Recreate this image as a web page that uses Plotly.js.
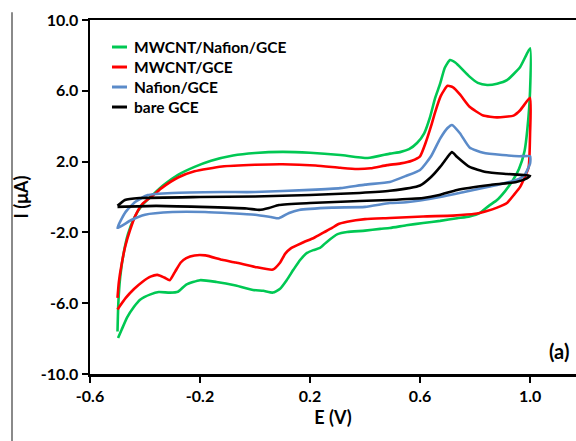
<!DOCTYPE html>
<html>
<head>
<meta charset="utf-8">
<script src="https://cdn.plot.ly/plotly-3.0.1.min.js"></script>
<style>html,body{margin:0;padding:0;background:#fff;}#chart{width:576px;height:441px;}</style>
</head>
<body>
<div id="chart"></div>
<script>
// Series names
const seriesNames = ["MWCNT/Nafion/GCE", "MWCNT/GCE", "Nafion/GCE", "bare GCE"];

// MWCNT/Nafion/GCE (green): anodic sweep then cathodic sweep
const greenE = [-0.5,-0.497,-0.49,-0.478,-0.462,-0.44,-0.41,-0.37,-0.33,-0.28,-0.22,-0.16,-0.08,0.0,0.10,0.2,0.31,0.41,0.49,0.53,0.56,0.589,0.615,0.636,0.655,0.673,0.69,0.709,0.728,0.745,0.78,0.81,0.844,0.88,0.916,0.964,1.0,
  1.0,0.99,0.98,0.96,0.938,0.91,0.88,0.85,0.818,0.78,0.735,0.673,0.611,0.55,0.49,0.455,0.40,0.335,0.30,0.284,0.26,0.236,0.212,0.189,0.164,0.14,0.115,0.09,0.065,0.03,-0.007,-0.07,-0.14,-0.2,-0.25,-0.28,-0.31,-0.35,-0.38,-0.418,-0.44,-0.465,-0.485,-0.498];
const greenI = [-7.6,-6.0,-4.5,-3.2,-2.1,-1.2,-0.45,0.15,0.7,1.25,1.7,2.05,2.35,2.49,2.55,2.5,2.37,2.2,2.45,2.55,2.7,3.05,3.6,4.5,5.6,6.4,7.3,7.74,7.6,7.35,6.8,6.45,6.33,6.4,6.6,7.35,8.4,
  6.0,3.8,2.6,1.6,0.96,0.35,-0.17,-0.5,-0.9,-1.1,-1.2,-1.35,-1.47,-1.6,-1.75,-1.8,-1.9,-1.98,-2.1,-2.26,-2.55,-2.88,-3.0,-3.16,-3.56,-4.1,-4.7,-5.2,-5.4,-5.3,-5.25,-5.0,-4.8,-4.7,-4.95,-5.35,-5.4,-5.37,-5.5,-5.8,-6.2,-6.8,-7.5,-7.97];

// MWCNT/GCE (red)
const redE = [-0.5,-0.495,-0.485,-0.472,-0.455,-0.435,-0.41,-0.37,-0.34,-0.28,-0.22,-0.12,0.0,0.1,0.22,0.31,0.37,0.42,0.48,0.53,0.57,0.60,0.62,0.64,0.655,0.675,0.70,0.72,0.745,0.78,0.83,0.88,0.94,0.964,1.0,
  1.0,0.995,0.98,0.964,0.94,0.916,0.88,0.84,0.80,0.72,0.611,0.49,0.40,0.335,0.30,0.28,0.25,0.215,0.17,0.13,0.11,0.09,0.065,0.0,-0.07,-0.12,-0.18,-0.22,-0.25,-0.27,-0.29,-0.31,-0.33,-0.355,-0.38,-0.41,-0.44,-0.47,-0.5];
const redI = [-5.7,-4.8,-3.8,-2.8,-1.9,-1.05,-0.4,0.1,0.5,1.1,1.45,1.72,1.82,1.85,1.78,1.65,1.58,1.62,1.8,1.9,2.05,2.3,3.05,4.0,4.8,5.7,6.28,6.2,5.8,5.1,4.6,4.5,4.6,4.9,5.6,
  3.6,1.7,1.1,0.57,0.1,-0.34,-0.6,-0.8,-0.95,-1.05,-1.1,-1.19,-1.25,-1.4,-1.55,-1.75,-2.0,-2.3,-2.6,-2.9,-3.2,-3.73,-4.1,-3.95,-3.7,-3.55,-3.3,-3.3,-3.45,-3.7,-4.2,-4.7,-4.55,-4.4,-4.5,-4.8,-5.2,-5.7,-6.35];

// Nafion/GCE (blue)
const blueE = [-0.5,-0.473,-0.436,-0.39,-0.30,-0.12,0.0,0.2,0.31,0.40,0.49,0.55,0.60,0.64,0.673,0.70,0.716,0.745,0.78,0.83,0.90,0.96,1.0,
  1.0,0.98,0.95,0.88,0.76,0.673,0.55,0.49,0.40,0.28,0.16,0.124,0.087,0.058,0.0,-0.182,-0.30,-0.40,-0.45,-0.5];
const blueI = [-1.75,-0.9,-0.28,0.11,0.23,0.28,0.28,0.4,0.5,0.7,0.85,1.2,1.53,2.3,3.3,3.9,4.07,3.6,2.8,2.5,2.37,2.3,2.3,
  1.9,1.24,0.96,0.68,0.28,0.0,-0.3,-0.34,-0.56,-0.6,-0.73,-0.9,-1.2,-1.13,-1.0,-0.85,-0.85,-1.0,-1.3,-1.75];

// bare GCE (black)
const blackE = [-0.5,-0.473,-0.42,-0.2,0.0,0.2,0.38,0.49,0.6,0.64,0.673,0.70,0.716,0.735,0.78,0.84,0.916,1.0,
  0.99,0.95,0.855,0.735,0.67,0.611,0.49,0.38,0.2,0.087,0.051,0.015,-0.03,-0.2,-0.36,-0.5];
const blackI = [-0.5,-0.17,-0.06,0.0,0.03,0.11,0.23,0.35,0.65,1.13,1.7,2.26,2.54,2.26,1.7,1.41,1.3,1.2,
  1.07,0.85,0.68,0.4,0.11,-0.06,-0.17,-0.23,-0.34,-0.45,-0.62,-0.73,-0.65,-0.56,-0.5,-0.56];

const xTicks = [-0.6,-0.2,0.2,0.6,1.0];
const yTicks = [-10,-6,-2,2,6,10];

const colors = ["#00C853", "#FF0000", "#5B8BC9", "#000000"];
const FONT = "Lato, 'Open Sans', sans-serif";

const xs = [greenE, redE, blueE, blackE];
const ys = [greenI, redI, blueI, blackI];
const traces = seriesNames.map((n, i) => ({
  x: xs[i], y: ys[i], name: n, type: 'scatter', mode: 'lines', showlegend: false,
  line: {color: colors[i], width: 2.6, shape: 'spline', smoothing: 0.5}
}));

// Compact legend (Excel-style tight rows) built from the series names and colours
const legX0 = 0.0453, legX1 = 0.0761, legTextX = 0.0864, legTop = 0.9237, legStep = 0.0565;
const legendShapes = seriesNames.map((n, i) => ({
  type: 'line', xref: 'paper', yref: 'paper', x0: legX0, x1: legX1,
  y0: legTop - i * legStep, y1: legTop - i * legStep, line: {color: colors[i], width: 3}
}));
const legendTexts = seriesNames.map((n, i) => ({
  text: n, xref: 'paper', yref: 'paper', x: legTextX, y: legTop - i * legStep,
  xanchor: 'left', yanchor: 'middle', showarrow: false,
  font: {family: FONT, size: 15.5, color: '#000', weight: 'bold'}
}));

const layout = {
  width: 576, height: 441,
  margin: {l: 90, r: 0, t: 20, b: 67},
  paper_bgcolor: '#fff', plot_bgcolor: '#fff',
  showlegend: false,
  xaxis: {
    range: [-0.6, 1.167], tickvals: xTicks, ticktext: xTicks.map(v => v.toFixed(1)),
    showgrid: false, zeroline: false, showline: true, linecolor: '#000', linewidth: 2.5, mirror: true,
    ticks: 'outside', ticklen: 6, tickwidth: 2, tickcolor: '#000',
    tickfont: {family: FONT, size: 16, color: '#000', weight: 'bold'},
    title: {text: 'E (V)', font: {family: FONT, size: 18, color: '#000', weight: 'bold'}, standoff: 8}
  },
  yaxis: {
    range: [-10, 10], tickvals: yTicks, ticktext: yTicks.map(v => v.toFixed(1)),
    showgrid: false, zeroline: false, showline: true, linecolor: '#000', linewidth: 2.5, mirror: false,
    ticks: 'outside', ticklen: 6, tickwidth: 2, tickcolor: '#000',
    tickfont: {family: FONT, size: 16, color: '#000', weight: 'bold'},
    title: {text: 'I (μA)', font: {family: FONT, size: 18, color: '#000', weight: 'bold'}, standoff: 8}
  },
  annotations: legendTexts.concat([{
    text: '(a)', xref: 'paper', yref: 'paper', x: 0.99, y: 0.065, xanchor: 'right', yanchor: 'middle',
    showarrow: false, font: {family: FONT, size: 20, color: '#000', weight: 'bold'}
  }]),
  shapes: legendShapes.concat([{
    type: 'line', xref: 'paper', yref: 'paper', x0: -0.1605, x1: -0.1605, y0: -0.19, y1: 1.022,
    line: {color: '#8a8a8a', width: 2}
  }])
};

Plotly.newPlot('chart', traces, layout, {displayModeBar: false, staticPlot: true});
</script>
</body>
</html>
